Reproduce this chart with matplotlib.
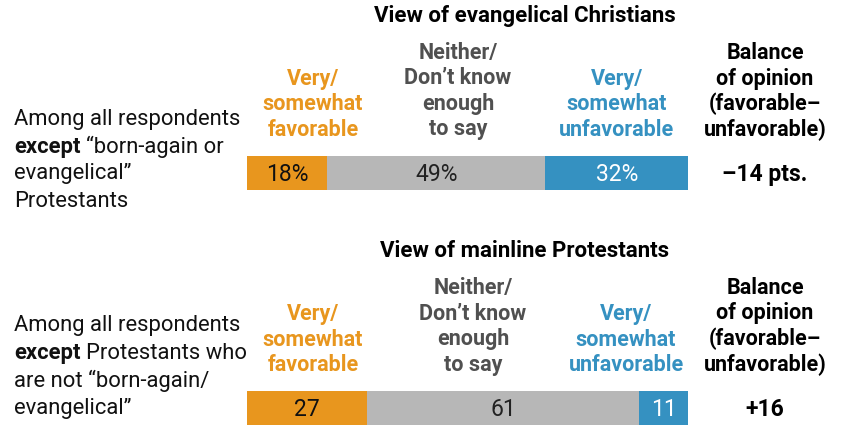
import matplotlib
matplotlib.use("Agg")
import matplotlib.pyplot as plt
import numpy as np

W, H = 841, 425

# shares per row: favorable, neither/don't know, unfavorable
row_titles = ["View of evangelical Christians", "View of mainline Protestants"]
favorable = [18, 27]
neither = [49, 61]
unfavorable = [32, 11]
balance_labels = ["\u201314 pts.", "+16"]
value_fmt = ["{}%", "{}"]

ORANGE = "#E8961E"
GRAY = "#B7B7B7"
BLUE = "#3591C1"
HEAD_GRAY = "#505050"

plt.rcParams["font.family"] = ["Roboto", "DejaVu Sans"]

fig = plt.figure(figsize=(W / 100, H / 100), dpi=100)


def px(x, y):
    return x / W, 1 - y / H


def txt(x, y, s, **kw):
    fx, fy = px(x, y)
    return fig.text(fx, fy, s, **kw)


def header(x, y0, lines, color, step=25.5):
    for i, line in enumerate(lines):
        txt(x, y0 + i * step, line, ha="center", va="center", fontsize=15.5,
            fontweight="bold", color=color)


# vertical offsets of the two panels (pixels)
offsets = [0, 235]
label_tops = [119, 326]
head_x = [(313, 458, 617, 765), (313, 473, 626, 765)]
bar_left, bar_right = 247, 688

left_labels = [
    [("Among all respondents", None), ("except", "\u201cborn-again or"),
     ("evangelical\u201d", None), ("Protestants", None)],
    [("Among all respondents", None), ("except", "Protestants who"),
     ("are not \u201cborn-again/", None), ("evangelical\u201d", None)],
]

for r in range(2):
    dy = offsets[r]
    hx = head_x[r]
    txt(525, 16 + dy, row_titles[r], ha="center", va="center",
        fontsize=16, fontweight="bold", color="black")

    # column headers
    header(hx[0], 79 + dy, ["Very/", "somewhat", "favorable"], ORANGE)
    header(hx[1], 53 + dy, ["Neither/", "Don\u2019t know", "enough", "to say"], HEAD_GRAY)
    header(hx[2], 79 + dy, ["Very/", "somewhat", "unfavorable"], BLUE)
    header(hx[3], 53 + dy, ["Balance", "of opinion", "(favorable\u2013", "unfavorable)"], "black")

    # row label on the left
    for i, (first, rest) in enumerate(left_labels[r]):
        y = label_tops[r] + i * 27.5
        if rest is None:
            txt(14, y, first, ha="left", va="center", fontsize=15.8, color="#111111")
        else:
            t = txt(14, y, first, ha="left", va="center", fontsize=15.8,
                    fontweight="bold", color="#111111")
            fig.canvas.draw()
            bb = t.get_window_extent()
            txt(bb.x1 + 6, y, rest, ha="left", va="center", fontsize=15.8,
                color="#111111")

    # stacked bar
    fx0, fy0 = px(bar_left, 190 + dy)
    ax = fig.add_axes([fx0, fy0, (bar_right - bar_left) / W, 34 / H])
    vals = [favorable[r], neither[r], unfavorable[r]]
    starts = np.concatenate([[0], np.cumsum(vals)[:-1]])
    colors = [ORANGE, GRAY, BLUE]
    text_colors = ["#111111", "#222222", "white"]
    ax.barh(0, vals, left=starts, height=1, color=colors, edgecolor="none")
    for v, s, tc in zip(vals, starts, text_colors):
        ax.text(s + v / 2, -0.04, value_fmt[r].format(v), ha="center", va="center",
                fontsize=16.5, color=tc)
    ax.set_xlim(0, sum(vals))
    ax.set_ylim(-0.5, 0.5)
    ax.axis("off")

    txt(765, 175 + dy, balance_labels[r], ha="center", va="center", fontsize=16.5,
        fontweight="bold", color="black")

fig.savefig("out.png", dpi=100)
